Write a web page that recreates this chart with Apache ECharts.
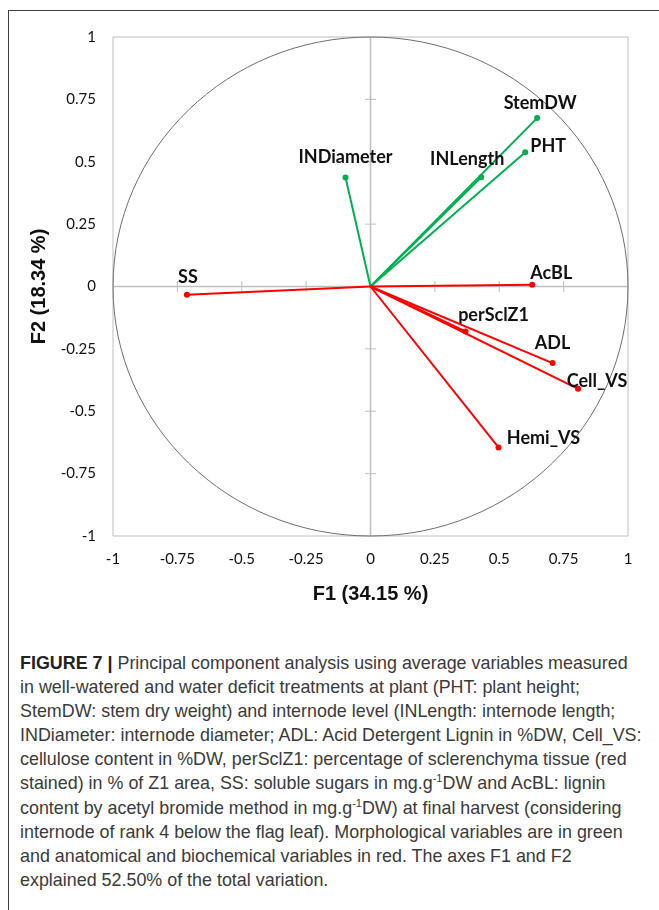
<!DOCTYPE html>
<html>
<head>
<meta charset="utf-8">
<script src="https://cdn.jsdelivr.net/npm/echarts@6/dist/echarts.min.js"></script>
<style>
html,body{margin:0;padding:0;background:#fff;width:659px;height:910px;overflow:hidden;}
#frame{position:absolute;left:8px;top:10px;width:700px;height:950px;border-left:1px solid #404040;border-top:1px solid #404040;}
#chart{position:absolute;left:0;top:0;width:659px;height:640px;}
#caption{position:absolute;left:20px;top:651px;font-family:'Liberation Sans',Arial,Helvetica,sans-serif;font-size:17.9px;line-height:24.1px;color:#3a3a3a;white-space:nowrap;}
#caption b{color:#222;}
#caption sup{font-size:11px;line-height:0;vertical-align:7px;}
</style>
</head>
<body>
<div id="frame"></div>
<div id="chart"></div>
<div id="caption"><b>FIGURE 7 |</b> Principal component analysis using average variables measured<br>in well-watered and water deficit treatments at plant (PHT: plant height;<br>StemDW: stem dry weight) and internode level (INLength: internode length;<br>INDiameter: internode diameter; ADL: Acid Detergent Lignin in %DW, Cell_VS:<br>cellulose content in %DW, perSclZ1: percentage of sclerenchyma tissue (red<br>stained) in % of Z1 area, SS: soluble sugars in mg.g<sup>-1</sup>DW and AcBL: lignin<br>content by acetyl bromide method in mg.g<sup>-1</sup>DW) at final harvest (considering<br>internode of rank 4 below the flag leaf). Morphological variables are in green<br>and anatomical and biochemical variables in red. The axes F1 and F2<br>explained 52.50% of the total variation.</div>
<script>
// ---- data ----
const variables = ['StemDW', 'PHT', 'INLength', 'INDiameter', 'SS', 'AcBL', 'perSclZ1', 'ADL', 'Cell_VS', 'Hemi_VS'];
const f1 = [0.647, 0.601, 0.430, -0.097, -0.713, 0.628, 0.369, 0.707, 0.806, 0.497];
const f2 = [0.675, 0.538, 0.438, 0.437, -0.033, 0.007, -0.180, -0.307, -0.410, -0.645];
const group = ['morph', 'morph', 'morph', 'morph', 'bio', 'bio', 'bio', 'bio', 'bio', 'bio'];
const xTicks = [-1, -0.75, -0.5, -0.25, 0, 0.25, 0.5, 0.75, 1];
const xTickLabels = ['-1', '-0.75', '-0.5', '-0.25', '0', '0.25', '0.5', '0.75', '1'];
const yTicks = [-1, -0.75, -0.5, -0.25, 0, 0.25, 0.5, 0.75, 1];
const yTickLabels = ['-1', '-0.75', '-0.5', '-0.25', '0', '0.25', '0.5', '0.75', '1'];
const xTitle = 'F1 (34.15 %)';
const yTitle = 'F2 (18.34 %)';

// ---- styles ----
const COLORS = { morph: '#00b050', bio: '#ff0000' };
const LABEL_OFFSET = {
  StemDW: [3, -15], PHT: [23, -6], INLength: [-14, -18], INDiameter: [0, -20], SS: [1, -18],
  AcBL: [19, -12], perSclZ1: [28, -16], ADL: [0, -20], Cell_VS: [19, -8], Hemi_VS: [45, -9]
};
const GRID_GRAY = '#bfbfbf';
const tickFont = 'Lato, "Open Sans", sans-serif';

function fmt(ticks, labels) {
  return function (v) {
    const i = ticks.findIndex(t => Math.abs(t - v) < 1e-9);
    return i >= 0 ? labels[i] : '';
  };
}

const chart = echarts.init(document.getElementById('chart'), null, { renderer: 'canvas' });
chart.setOption({
  animation: false,
  backgroundColor: 'transparent',
  grid: { left: 113, top: 37, width: 515, height: 499, show: true, borderColor: GRID_GRAY, borderWidth: 1, backgroundColor: 'transparent' },
  xAxis: {
    type: 'value', min: -1, max: 1, interval: 0.25,
    axisLine: { show: false }, axisTick: { show: false }, splitLine: { show: false },
    axisLabel: { formatter: fmt(xTicks, xTickLabels), fontSize: 15, fontFamily: tickFont, color: '#111', margin: 16 },
    name: xTitle, nameLocation: 'middle', nameGap: 48,
    nameTextStyle: { fontSize: 20, fontWeight: 'bold', fontFamily: '"Liberation Sans", Arial, sans-serif', color: '#111' }
  },
  yAxis: {
    type: 'value', min: -1, max: 1, interval: 0.25,
    axisLine: { show: false }, axisTick: { show: false }, splitLine: { show: false },
    axisLabel: { formatter: fmt(yTicks, yTickLabels), fontSize: 15, fontFamily: tickFont, color: '#111', margin: 17 },
    name: yTitle, nameLocation: 'middle', nameGap: 60, nameRotate: 90,
    nameTextStyle: { fontSize: 20, fontWeight: 'bold', fontFamily: '"Liberation Sans", Arial, sans-serif', color: '#111' }
  },
  series: [
    {
      type: 'custom', z: 1, silent: true,
      data: [[0, 0]],
      renderItem: function (params, api) {
        const c = api.coord([0, 0]);
        const rx = api.coord([1, 0])[0] - c[0];
        const ry = c[1] - api.coord([0, 1])[1];
        const children = [];
        const xl = api.coord([-1, 0]), xr = api.coord([1, 0]);
        const yb = api.coord([0, -1]), yt = api.coord([0, 1]);
        children.push({ type: 'line', shape: { x1: xl[0], y1: xl[1], x2: xr[0], y2: xr[1] }, style: { stroke: GRID_GRAY, lineWidth: 1.5 } });
        children.push({ type: 'line', shape: { x1: yb[0], y1: yb[1], x2: yt[0], y2: yt[1] }, style: { stroke: GRID_GRAY, lineWidth: 1.5 } });
        xTicks.forEach(v => {
          if (Math.abs(v) === 1 || v === 0) return;
          const p = api.coord([v, 0]);
          children.push({ type: 'line', shape: { x1: p[0], y1: p[1] - 5.5, x2: p[0], y2: p[1] + 5.5 }, style: { stroke: GRID_GRAY, lineWidth: 1 } });
        });
        yTicks.forEach(v => {
          if (Math.abs(v) === 1 || v === 0) return;
          const p = api.coord([0, v]);
          children.push({ type: 'line', shape: { x1: p[0] - 5.5, y1: p[1], x2: p[0] + 5.5, y2: p[1] }, style: { stroke: GRID_GRAY, lineWidth: 1 } });
        });
        children.push({ type: 'ellipse', shape: { cx: c[0], cy: c[1], rx: rx, ry: ry }, style: { fill: 'none', stroke: '#6e6e6e', lineWidth: 1 } });
        return { type: 'group', children: children };
      }
    },
    {
      type: 'custom', z: 3, silent: true,
      data: variables.map((n, i) => [f1[i], f2[i], i]),
      renderItem: function (params, api) {
        const i = api.value(2);
        const name = variables[i];
        const o = api.coord([0, 0]);
        const p = api.coord([api.value(0), api.value(1)]);
        const color = COLORS[group[i]];
        const off = LABEL_OFFSET[name] || [0, -16];
        return {
          type: 'group', children: [
            { type: 'line', shape: { x1: o[0], y1: o[1], x2: p[0], y2: p[1] }, style: { stroke: color, lineWidth: 2 } },
            { type: 'circle', shape: { cx: p[0], cy: p[1], r: 3 }, style: { fill: color } },
            { type: 'text', x: p[0] + off[0], y: p[1] + off[1],
              style: { text: name, align: 'center', verticalAlign: 'middle', fontSize: 18, fontWeight: 'bold', fontFamily: 'Lato, "Open Sans", sans-serif', fill: '#111' } }
          ]
        };
      }
    }
  ]
});
</script>
</body>
</html>
